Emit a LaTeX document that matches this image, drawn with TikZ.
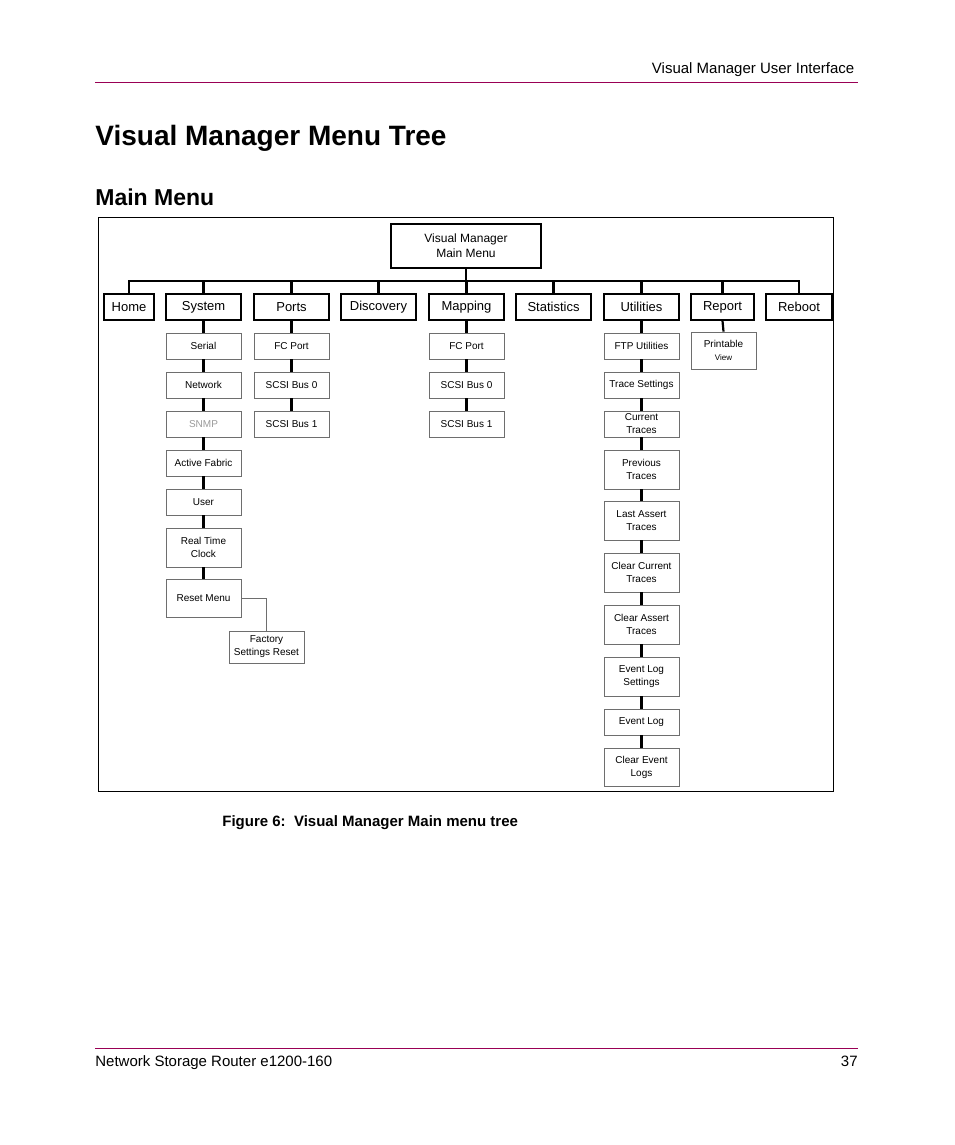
\documentclass[tikz,border=0pt]{standalone}
\usepackage{fontspec}
\setmainfont{Liberation Sans}
\definecolor{hpred}{RGB}{153,0,85}
\definecolor{subgray}{RGB}{110,110,110}
\tikzset{every picture/.style={line width=0.75pt}}
\tikzset{
  topbox/.style={draw,line width=1.6pt,inner sep=0pt,minimum height=26,font=\fontsize{13}{15}\selectfont},
  subbox/.style={draw=subgray,line width=0.8pt,inner sep=0pt,minimum width=75,align=center,font=\fontsize{10}{13}\selectfont},
  link/.style={line width=2.2pt},
}
\begin{document}
\begin{tikzpicture}[x=1pt,y=-1pt]
  \useasboundingbox (0,0) rectangle (954,1145);
  %header
  \node (head) [anchor=base east,font=\fontsize{15}{18}\selectfont] at (858,74) {Visual Manager User Interface};
  \draw [hpred,line width=1pt] (95,83) -- (858,83);
  \node (title) [anchor=base west,font=\bfseries\fontsize{28}{32}\selectfont,inner sep=0pt] at (95,146) {Visual Manager Menu Tree};
  \node (mainmenu) [anchor=base west,font=\bfseries\fontsize{23}{28}\selectfont,inner sep=0pt] at (95,205) {Main Menu};
  %frame
  \draw [line width=0.8pt] (98,217) rectangle (833,791);
  %root
  \node (root) [topbox,line width=1.2pt,minimum width=150,minimum height=44,align=center,font=\fontsize{12}{15}\selectfont] at (466,246) {Visual Manager\\Main Menu};
  %Level 1
  \foreach \n/\x/\w/\t in {home/129/50/Home,sys/203.5/75/System,ports/291.5/75/Ports,disc/378.5/75/Discovery,map/466.5/75/Mapping,stat/553.5/75/Statistics,util/641.5/75/Utilities,rep/722.5/63/Report,reb/799/66/Reboot}
    \node (\n) [topbox,minimum width=\w] at (\x,307) {\t};
  \coordinate (bus) at (466,281);
  \draw [link] (root.south) -- (bus);
  \foreach \n in {home,sys,ports,disc,map,stat,util,rep,reb}
    \draw [link] (bus) -| (\n.north);
  %System
  \foreach \n/\y/\h/\t in {serial/346/26/Serial,network/385/26/Network,snmp/424/26/{\color{gray!80}SNMP},fabric/463/26/Active Fabric,user/502/26/User,clock/547.5/39/Real Time\\Clock,reset/598/38/Reset Menu}
    \node (\n) [subbox,minimum height=\h] at (203.5,\y) {\t};
  \foreach \a/\b in {sys/serial,serial/network,network/snmp,snmp/fabric,fabric/user,user/clock,clock/reset}
    \draw [link] (\a.south) -- (\b.north);
  \node (factory) [subbox,minimum height=32] at (266.5,647) {Factory\\Settings Reset};
  \draw [subgray,line width=0.6pt] (reset.east) -| (factory.north);
  %Ports and Mapping
  \foreach \p/\x in {ports/291.5,map/466.5}{
    \node (\p fc) [subbox,minimum height=26] at (\x,346) {FC Port};
    \node (\p b0) [subbox,minimum height=26] at (\x,385) {SCSI Bus 0};
    \node (\p b1) [subbox,minimum height=26] at (\x,424) {SCSI Bus 1};
    \draw [link] (\p.south) -- (\p fc.north);
    \draw [link] (\p fc.south) -- (\p b0.north);
    \draw [link] (\p b0.south) -- (\p b1.north);
  }
  %Utilities
  \foreach \n/\y/\h/\t in {ftp/346/26/FTP Utilities,trset/385/26/Trace Settings,cur/424/26/Current\\Traces,prev/469.5/39/Previous\\Traces,lasta/520.5/39/Last Assert\\Traces,clrcur/572.5/39/Clear Current\\Traces,clras/624.5/39/Clear Assert\\Traces,evset/676.5/39/Event Log\\Settings,evlog/722/26/Event Log,clrev/767/38/Clear Event\\Logs}
    \node (\n) [subbox,minimum height=\h] at (641.5,\y) {\t};
  \foreach \a/\b in {util/ftp,ftp/trset,trset/cur,cur/prev,prev/lasta,lasta/clrcur,clrcur/clras,clras/evset,evset/evlog,evlog/clrev}
    \draw [link] (\a.south) -- (\b.north);
  %Report
  \node (print) [subbox,minimum width=65,minimum height=37] at (723.5,350.5) {Printable\\{\fontsize{8}{10}\selectfont View}};
  \draw [link] (rep.south) -- (print.north);
  %caption
  \node (caption) [anchor=base west,inner sep=0pt,font=\bfseries\fontsize{15}{18}\selectfont] at (222,826) {Figure 6:\ \ Visual Manager Main menu tree};
  %footer
  \draw [hpred,line width=1pt] (95,1048) -- (858,1048);
  \node (foot) [anchor=base west,inner sep=0pt,font=\fontsize{15}{18}\selectfont] at (95,1066) {Network Storage Router e1200-160};
  \node (page) [anchor=base east,inner sep=0pt,font=\fontsize{15}{18}\selectfont] at (858,1066) {37};
\end{tikzpicture}
\end{document}
